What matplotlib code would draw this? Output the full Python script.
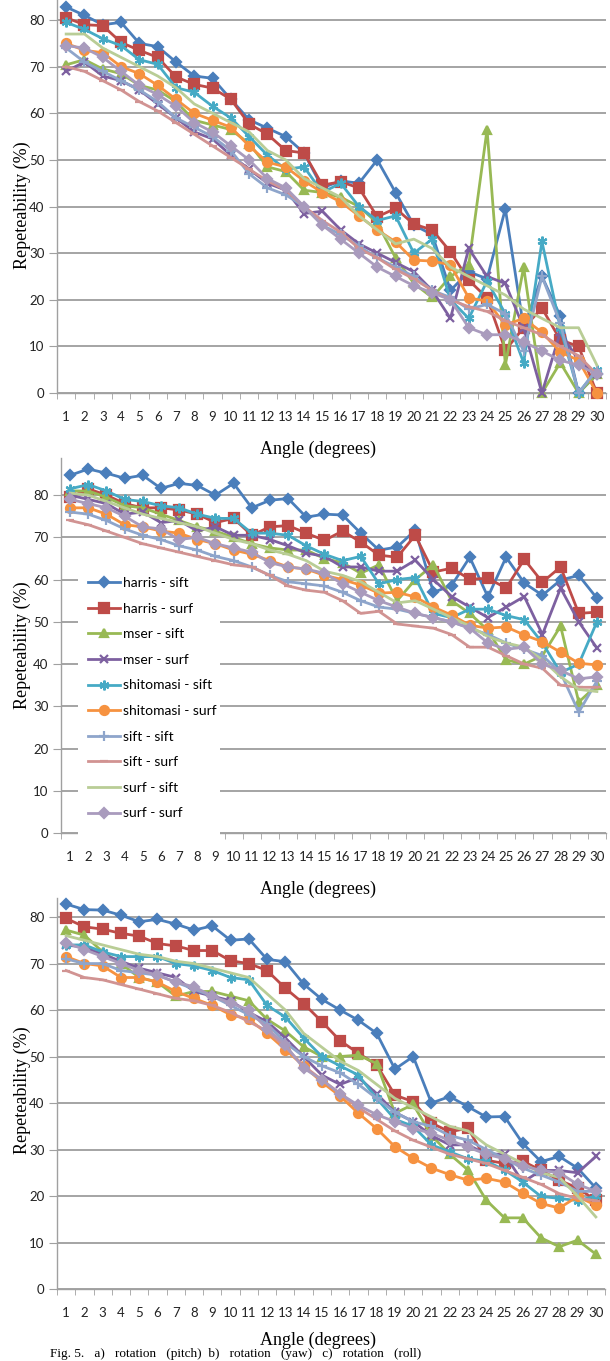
import numpy as np
import matplotlib
matplotlib.use("Agg")
import matplotlib.pyplot as plt
from matplotlib.patches import Rectangle
from matplotlib.lines import Line2D

# angles on the x axis
angles = list(range(1, 31))

labels = ["harris - sift", "harris - surf", "mser - sift", "mser - surf",
          "shitomasi - sift", "shitomasi - surf", "sift - sift", "sift - surf",
          "surf - sift", "surf - surf"]

# a) pitch
a_harris_sift = [82.8, 81.0, 79.0, 79.5, 75.0, 74.3, 71.0, 68.0, 67.5, 63.0, 58.6, 56.8, 55.0, 51.5, 44.0, 45.5, 45.0, 50.0, 43.0, 36.0, 34.0, 22.0, 26.0, 24.5, 39.5, 14.0, 25.0, 16.5, 0.0, 4.0]
a_harris_surf = [80.5, 79.0, 78.8, 75.2, 73.5, 72.0, 67.8, 66.2, 65.4, 63.0, 57.7, 55.5, 52.0, 51.5, 44.6, 45.3, 44.0, 37.8, 39.6, 36.2, 35.0, 30.3, 24.2, 20.4, 9.2, 14.0, 18.2, 11.4, 10.0, 0.0]
a_mser_sift = [70.4, 71.5, 69.5, 68.5, 66.0, 65.0, 62.5, 58.5, 57.5, 56.5, 53.5, 48.5, 47.5, 43.5, 43.0, 42.0, 40.0, 36.5, 29.0, 23.5, 20.5, 25.0, 27.5, 56.5, 6.0, 27.0, 0.0, 6.5, 0.0, 4.0]
a_mser_surf = [69.0, 71.0, 68.0, 67.0, 65.0, 62.0, 59.0, 56.0, 54.5, 51.0, 48.0, 45.0, 43.5, 38.5, 39.0, 35.0, 32.0, 30.0, 28.0, 26.0, 22.0, 16.0, 31.0, 25.0, 23.5, 14.0, 0.0, 13.0, 7.0, 4.0]
a_shi_sift = [79.5, 78.0, 76.0, 74.5, 71.5, 70.5, 65.5, 64.5, 61.5, 59.0, 55.0, 51.0, 48.0, 48.5, 43.0, 45.0, 40.0, 37.0, 38.0, 30.0, 33.0, 20.0, 16.0, 24.0, 17.0, 6.5, 32.5, 14.0, 0.0, 5.0]
a_shi_surf = [75.0, 73.5, 73.0, 70.0, 68.5, 66.0, 63.0, 60.0, 58.5, 57.0, 53.0, 49.5, 48.5, 45.5, 43.0, 41.0, 38.0, 35.0, 32.4, 28.5, 28.3, 27.5, 20.4, 19.7, 14.6, 16.0, 13.0, 8.8, 7.0, 0.0]
a_sift_sift = [74.0, 71.0, 69.0, 67.0, 65.0, 62.5, 59.0, 57.0, 55.0, 52.0, 47.0, 44.0, 42.5, 40.0, 36.0, 34.0, 31.5, 29.0, 27.0, 25.0, 22.0, 20.5, 18.0, 19.0, 17.0, 9.0, 25.0, 15.0, 0.0, 5.0]
a_sift_surf = [70.0, 69.0, 67.0, 65.0, 62.5, 60.5, 58.0, 55.5, 53.0, 50.5, 48.0, 45.5, 43.5, 40.0, 37.0, 34.5, 31.0, 29.0, 26.5, 24.5, 22.0, 20.0, 18.5, 17.5, 15.5, 14.0, 12.5, 10.0, 8.0, 4.0]
a_surf_sift = [77.0, 77.0, 74.0, 72.0, 70.0, 68.0, 65.5, 62.0, 60.0, 58.0, 56.0, 52.0, 50.0, 46.0, 44.0, 42.0, 38.0, 35.0, 32.0, 33.0, 31.0, 27.0, 25.0, 23.0, 21.0, 18.0, 16.0, 14.0, 14.0, 6.0]
a_surf_surf = [74.5, 74.0, 72.0, 69.0, 66.0, 64.0, 61.5, 58.0, 56.0, 53.0, 50.0, 46.0, 44.0, 40.0, 36.0, 33.0, 30.0, 27.0, 25.0, 23.0, 21.5, 20.0, 14.0, 12.5, 12.5, 11.0, 9.0, 7.0, 6.0, 4.0]

# b) yaw
b_harris_sift = [84.7, 86.2, 85.2, 84.0, 84.7, 81.6, 82.8, 82.3, 80.0, 82.8, 77.0, 78.8, 79.2, 74.8, 75.5, 75.3, 71.0, 67.0, 67.7, 71.7, 57.0, 58.6, 65.3, 55.9, 65.3, 59.2, 56.3, 59.9, 61.0, 55.6]
b_harris_surf = [79.5, 81.5, 80.0, 78.0, 77.0, 77.0, 76.5, 75.5, 73.5, 74.5, 70.5, 72.5, 72.8, 71.0, 69.3, 71.5, 68.9, 65.8, 65.3, 70.5, 61.8, 62.7, 60.1, 60.3, 58.0, 64.8, 59.4, 63.0, 52.0, 52.3]
b_mser_sift = [81.0, 81.0, 79.5, 77.5, 77.0, 75.5, 74.0, 72.5, 71.5, 70.0, 68.5, 67.5, 67.0, 67.0, 65.0, 64.0, 61.5, 63.5, 55.0, 60.0, 63.5, 55.0, 52.0, 48.0, 41.0, 40.0, 42.0, 49.0, 31.0, 35.0]
b_mser_surf = [80.0, 79.0, 78.0, 75.5, 76.0, 73.5, 74.0, 71.5, 72.5, 70.5, 70.5, 69.5, 68.0, 66.3, 65.5, 63.0, 63.0, 62.0, 62.0, 64.6, 60.0, 56.0, 53.5, 51.0, 53.5, 56.0, 47.0, 58.0, 50.0, 43.8]
b_shi_sift = [81.5, 82.5, 81.0, 79.0, 78.5, 77.5, 77.0, 75.5, 74.5, 74.5, 71.0, 71.0, 70.5, 68.0, 66.0, 64.5, 65.5, 59.0, 60.0, 60.5, 52.0, 51.0, 53.0, 53.0, 51.5, 50.5, 45.0, 38.0, 40.0, 50.0]
b_shi_surf = [77.0, 77.0, 75.5, 73.0, 72.5, 71.5, 71.0, 69.5, 68.5, 67.0, 66.0, 64.5, 63.0, 62.5, 61.0, 60.0, 58.7, 56.8, 57.0, 55.9, 53.5, 51.6, 49.2, 48.5, 48.8, 46.9, 45.3, 42.8, 40.2, 39.8]
b_sift_sift = [76.0, 75.5, 74.0, 72.0, 70.5, 69.5, 68.0, 67.0, 65.5, 64.5, 63.0, 61.0, 59.5, 59.0, 58.5, 57.0, 55.0, 53.5, 53.0, 52.0, 51.0, 50.0, 48.5, 47.0, 45.0, 43.5, 42.0, 38.0, 28.6, 36.0]
b_sift_surf = [74.0, 73.0, 71.5, 70.0, 68.5, 67.5, 66.5, 65.5, 64.5, 63.5, 63.0, 61.0, 58.5, 57.5, 57.0, 55.0, 52.0, 52.5, 49.5, 49.0, 48.5, 47.0, 44.0, 44.0, 42.0, 40.0, 39.0, 35.0, 34.5, 34.5]
b_surf_sift = [80.5, 80.0, 78.5, 77.0, 75.5, 74.5, 73.5, 72.5, 71.0, 69.5, 68.5, 67.0, 66.0, 64.5, 62.0, 61.0, 59.5, 57.0, 54.5, 55.0, 53.0, 51.0, 49.0, 46.5, 45.0, 44.0, 41.0, 37.0, 34.0, 33.5]
b_surf_surf = [79.0, 78.0, 77.0, 75.0, 72.5, 72.0, 69.5, 70.0, 68.5, 67.5, 66.5, 64.0, 63.0, 62.5, 61.5, 59.0, 57.0, 55.0, 53.5, 52.0, 51.0, 50.0, 48.5, 45.0, 43.5, 44.0, 40.0, 38.5, 36.5, 37.0]

# c) roll
c_harris_sift = [82.8, 81.6, 81.5, 80.4, 79.0, 79.5, 78.5, 77.2, 78.1, 75.0, 75.3, 70.9, 70.4, 65.6, 62.3, 60.0, 57.8, 55.0, 47.3, 50.0, 40.0, 41.4, 39.2, 37.0, 37.1, 31.3, 27.4, 28.5, 26.0, 21.7]
c_harris_surf = [79.7, 77.9, 77.4, 76.5, 75.9, 74.3, 73.8, 72.8, 72.8, 70.6, 70.0, 68.5, 64.7, 61.4, 57.5, 53.4, 50.7, 48.2, 41.7, 40.3, 35.7, 33.8, 34.6, 27.7, 27.0, 27.5, 25.5, 23.4, 21.7, 19.1]
c_mser_sift = [77.2, 76.1, 72.5, 70.0, 67.0, 66.0, 63.0, 64.0, 64.0, 63.0, 62.0, 58.0, 55.5, 52.1, 50.0, 50.0, 50.3, 48.5, 37.8, 39.7, 33.0, 29.0, 25.6, 19.1, 15.3, 15.3, 11.0, 9.1, 10.5, 7.5]
c_mser_surf = [74.0, 73.5, 72.0, 70.5, 69.0, 68.0, 67.0, 64.0, 63.0, 62.0, 59.5, 57.5, 54.0, 50.0, 46.0, 44.0, 45.5, 42.0, 38.0, 36.0, 33.0, 31.0, 31.0, 29.0, 29.0, 23.0, 25.5, 25.5, 25.0, 28.5]
c_shi_sift = [74.0, 74.0, 72.5, 71.5, 71.5, 71.5, 70.0, 69.5, 68.5, 67.0, 66.5, 61.0, 58.5, 54.0, 50.0, 48.0, 46.0, 41.0, 36.5, 35.0, 31.0, 29.5, 28.0, 27.5, 25.6, 23.0, 19.9, 19.5, 19.0, 20.0]
c_shi_surf = [71.5, 70.0, 69.5, 67.0, 67.0, 66.0, 64.0, 62.5, 61.0, 59.0, 58.0, 55.0, 51.5, 48.0, 44.5, 41.5, 37.8, 34.5, 30.6, 28.1, 26.0, 24.6, 23.4, 23.8, 23.0, 20.6, 18.4, 17.4, 19.9, 18.0]
c_sift_sift = [71.0, 70.0, 70.0, 68.5, 68.0, 67.5, 66.0, 64.5, 63.0, 61.0, 59.0, 57.0, 53.0, 50.0, 48.0, 46.5, 44.0, 41.0, 38.0, 36.0, 35.0, 33.0, 32.0, 30.0, 28.0, 26.0, 24.5, 23.0, 21.0, 21.0]
c_sift_surf = [68.5, 67.0, 66.5, 65.5, 64.5, 63.5, 62.5, 62.0, 61.0, 59.5, 57.5, 55.5, 52.0, 48.0, 45.0, 42.0, 39.0, 36.5, 34.0, 32.0, 30.5, 29.0, 28.0, 27.0, 25.5, 24.0, 22.5, 20.5, 19.5, 19.0]
c_surf_sift = [76.0, 75.0, 74.0, 73.0, 72.0, 71.5, 70.5, 70.0, 69.0, 68.0, 67.0, 63.5, 60.0, 55.0, 52.0, 49.0, 47.0, 44.0, 41.0, 39.0, 37.0, 35.0, 34.0, 31.0, 29.0, 27.0, 25.0, 24.0, 20.0, 15.5]
c_surf_surf = [74.5, 73.0, 71.5, 70.0, 68.5, 67.5, 66.0, 65.0, 63.0, 61.5, 60.0, 56.0, 52.5, 47.5, 45.0, 42.0, 39.5, 37.5, 36.0, 34.5, 33.5, 32.0, 30.5, 29.0, 28.0, 26.5, 25.5, 25.0, 22.5, 21.0]

panel_a = [a_harris_sift, a_harris_surf, a_mser_sift, a_mser_surf, a_shi_sift,
           a_shi_surf, a_sift_sift, a_sift_surf, a_surf_sift, a_surf_surf]
panel_b = [b_harris_sift, b_harris_surf, b_mser_sift, b_mser_surf, b_shi_sift,
           b_shi_surf, b_sift_sift, b_sift_surf, b_surf_sift, b_surf_surf]
panel_c = [c_harris_sift, c_harris_surf, c_mser_sift, c_mser_surf, c_shi_sift,
           c_shi_surf, c_sift_sift, c_sift_surf, c_surf_sift, c_surf_surf]

# excel 2010 palette + markers
colors = ["#4A7EBB", "#BE4B48", "#98B954", "#7D60A0", "#46AAC5",
          "#F69240", "#8EA5CB", "#D19392", "#B9CD96", "#A99BBD"]
markers = ["D", "s", "^", "x", (6, 2, 0), "o", "+", "_", None, "D"]
msizes = [5, 6.5, 6, 6, 7, 6.5, 7, 6, 0, 5]

W, H = 610, 1361
fig = plt.figure(figsize=(W / 100, H / 100), dpi=100)
fig.patch.set_facecolor("white")

tick_font = "Lato"
grid_col = "#8C8C8C"


def rect(left, top, right, bottom):
    return [left / W, 1 - bottom / H, (right - left) / W, (bottom - top) / H]


def draw_panel(box, ymax, series, ylabel_y, xlabel_y):
    ax = fig.add_axes(rect(*box))
    for k, vals in enumerate(series):
        ax.plot(angles, vals, color=colors[k], lw=2.0, marker=markers[k],
                ms=msizes[k], mec=colors[k], mew=1.6, clip_on=False,
                zorder=3 + k, label=labels[k])
    ax.set_xlim(0.5, 30.5)
    ax.set_ylim(0, ymax)
    ax.set_yticks(range(0, 90, 10))
    ax.yaxis.grid(True, color=grid_col, lw=1.1)
    ax.set_axisbelow(True)
    for s in ["top", "right"]:
        ax.spines[s].set_visible(False)
    for s in ["left", "bottom"]:
        ax.spines[s].set_color("#A0A0A0")
        ax.spines[s].set_linewidth(1.0)
    ax.set_xticks(angles)
    ax.set_xticks(np.arange(0.5, 31, 1), minor=True)
    ax.tick_params(axis="x", which="major", length=0, pad=13, labelsize=9.5)
    ax.tick_params(axis="x", which="minor", length=4, color="#A0A0A0")
    ax.tick_params(axis="y", length=6, color="#A0A0A0", pad=3, labelsize=9.5)
    for t in ax.get_xticklabels() + ax.get_yticklabels():
        t.set_fontfamily(tick_font)
        t.set_color("#222222")
    fig.text(22 / W, 1 - ylabel_y / H, "Repeteability (%)", rotation=90,
             ha="center", va="center", family="Liberation Serif", fontsize=13)
    fig.text(318 / W, 1 - xlabel_y / H, "Angle (degrees)", ha="center",
             va="center", family="Liberation Serif", fontsize=13)
    return ax


ax1 = draw_panel((57, 0, 606, 393), 84.3, panel_a, 205, 449)
ax2 = draw_panel((61, 458, 606, 833), 88.8, panel_b, 645, 889)
ax3 = draw_panel((57, 898, 605, 1289), 84.1, panel_c, 1090, 1340)

# legend of the middle panel sits on a white box
fig.patches.append(Rectangle((78 / W, 1 - 845 / H), 142 / W, 270 / H,
                             transform=fig.transFigure, facecolor="white",
                             edgecolor="none", zorder=4))
handles = [Line2D([], [], color=colors[k], lw=2.0, marker=markers[k],
                  ms=msizes[k], mec=colors[k], mew=1.6) for k in range(10)]
fig.legend(handles, labels, loc="upper left", bbox_to_anchor=(88 / W, 1 - 577 / H),
           frameon=False, prop={"family": tick_font, "size": 10},
           handlelength=2.3, handletextpad=0.2, labelspacing=0.98,
           borderpad=0, borderaxespad=0).set_zorder(5)

# caption of the figure at the bottom edge
fig.text(50 / W, 1 - 1360 / H, "Fig. 5.   a)   rotation   (pitch)  b)   rotation   (yaw)   c)   rotation   (roll)",
         ha="left", va="bottom", family="Liberation Serif", fontsize=9.5)

fig.savefig("out.png", dpi=100)
